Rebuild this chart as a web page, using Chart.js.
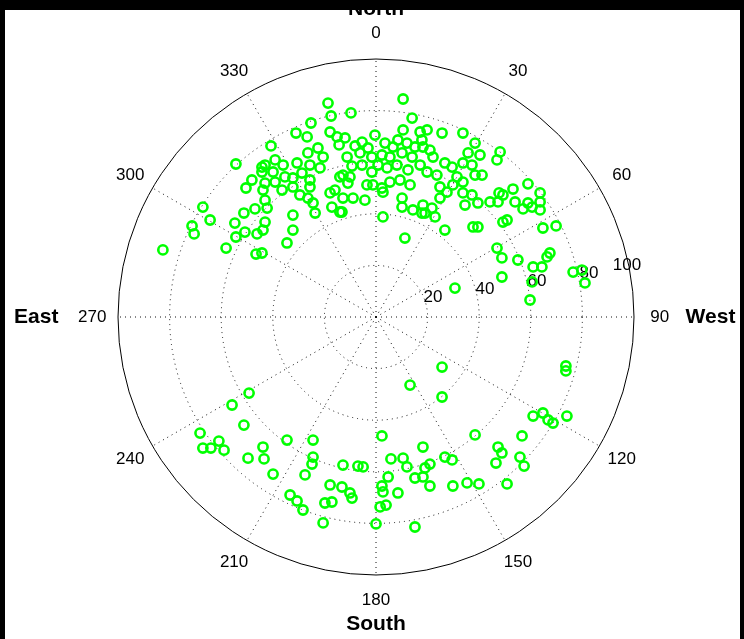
<!DOCTYPE html>
<html><head><meta charset="utf-8">
<script src="https://cdn.jsdelivr.net/npm/chart.js@4"></script>
<style>html,body{margin:0;padding:0;background:#fff;overflow:hidden}canvas{display:block}</style>
</head><body>
<canvas id="c" width="744" height="639"></canvas>
<script>
// Satellite positions on the sky plot, as offsets (in radial-axis units, 0..100)
// positive westOffset = towards West (right), positive northOffset = towards North (up)
const westOffset = [
 -82.6,-71.3,-70.5,-67.1,-64.3,-58.1,-54.7,-54.3,-54.3,-51.2,-50.8,-50.4,-48.1,-46.9,-46.5,-46.1,-44.2,
 -18.6,-17.4,-25.2,-31.0,-26.7,-40.7,-17.8,-15.1,-22.5,-26.4,-20.5,-14.0,-39.1,-43.0,-36.0,-30.6,-25.6,-21.7,-44.2,-39.9,-35.3,-28.7,-32.2,-25.6,-43.0,-39.1,-36.4,-32.2,-25.6,-29.5,-26.4,-24.4,-17.8,-15.9,-17.1,-14.0,-23.6,-32.2,-43.8,-43.0,-42.2,-43.0,-43.8,-32.2,-34.5,-44.2,-14.3,
 10.5,-9.7,14.0,10.5,17.1,-0.4,-12.0,-5.4,3.5,6.6,12.0,15.1,-6.2,-11.2,-1.6,2.3,5.4,10.1,14.0,-5.4,0.8,4.3,8.1,17.1,-12.8,-10.1,-10.9,-3.5,-1.2,2.3,5.4,9.3,13.2,-12.8,-8.9,-4.3,2.7,10.1,10.1,14.3,17.8,-13.2,2.7,11.2,-8.1,-3.1,8.5,-1.6,12.4,-9.3,
 25.6,33.7,19.8,17.8,38.4,18.2,35.7,40.3,48.1,46.9,22.1,26.7,29.5,33.7,37.2,41.1,38.4,31.4,19.8,33.7,29.8,24.8,27.5,33.7,37.2,24.8,39.5,34.5,44.2,47.7,47.3,18.2,21.7,19.0,22.9,26.7,37.6,39.5,46.9,20.9,23.6,
 58.9,53.1,63.6,49.2,53.9,58.9,63.6,63.6,57.0,60.5,50.8,49.2,64.7,69.8,67.4,66.3,55.0,60.9,64.3,76.4,79.8,81.0,48.8,48.8,30.6,60.5,59.7,
 25.6,13.2,25.6,73.6,73.6,60.9,64.7,66.7,68.6,74.0,38.4,56.6,18.2,47.3,48.8,26.7,29.5,55.8,46.5,57.4,20.9,19.0,18.2,20.9,29.8,35.3,39.9,50.8,
 -49.2,-55.8,-51.2,-68.2,-67.1,-64.0,-60.9,-58.9,-49.6,-43.8,-43.4,-34.5,-39.9,-33.3,-30.6,-27.5,
 2.3,-24.4,-24.4,-24.8,-12.8,-5.0,5.8,10.5,12.0,4.7,15.1,-17.8,-13.2,-10.1,-9.3,2.3,2.7,8.5,-19.8,-17.1,1.6,3.9,-28.3,-20.5,0.0,15.1,-7.0
];
const northOffset = [
 26.0,35.3,32.2,42.6,37.6,26.7,36.4,59.3,31.0,40.3,32.9,50.0,53.1,41.9,24.4,32.2,58.1,
 82.9,77.9,75.2,71.3,69.8,66.3,71.7,69.8,65.5,63.6,62.0,54.3,60.9,58.9,58.9,59.7,58.9,57.8,56.2,56.2,54.3,55.8,53.9,53.1,51.9,52.3,49.2,50.4,50.4,47.3,46.1,44.2,48.1,49.2,42.6,40.7,40.3,39.5,49.2,45.3,42.2,36.8,33.7,33.7,28.7,24.8,66.7,
 84.5,79.1,77.1,72.5,71.7,70.5,69.4,67.8,67.4,65.9,67.4,65.9,63.6,62.0,62.0,62.8,62.0,63.6,62.0,58.9,58.9,57.8,58.9,58.9,55.0,54.3,51.9,51.2,51.2,50.0,52.3,53.1,51.2,46.1,46.1,45.3,48.4,46.1,42.6,41.5,40.3,40.7,38.8,30.6,66.3,65.5,68.6,56.2,57.0,58.5,
 71.3,71.3,72.5,68.6,67.4,65.9,63.6,62.8,64.0,60.9,62.0,59.7,58.1,59.7,58.9,55.0,55.0,54.3,56.2,52.3,51.2,50.4,48.4,48.1,47.3,46.1,44.2,43.4,44.6,48.1,44.6,43.4,42.2,40.3,38.8,33.7,34.9,34.9,26.7,64.7,55.0,
 51.6,49.6,48.1,47.3,44.6,44.2,44.6,41.5,41.9,42.6,37.6,36.8,34.5,35.3,24.8,23.3,22.1,19.4,19.4,17.4,18.2,13.2,15.5,22.9,11.2,13.6,6.6,
 -19.4,-26.4,-31.0,-19.0,-20.9,-38.4,-37.2,-39.9,-41.1,-38.4,-45.7,-46.1,-50.4,-50.4,-52.7,-54.3,-55.4,-54.3,-56.6,-57.8,-57.0,-58.5,-62.0,-65.5,-65.5,-64.3,-64.7,-64.7,
 -29.5,-34.1,-41.9,-45.0,-50.8,-50.8,-48.1,-51.6,-54.7,-50.4,-55.0,-47.7,-60.9,-69.0,-71.3,-61.2,
 -46.1,-47.7,-54.3,-57.0,-57.4,-58.1,-55.0,-54.7,-58.1,-62.0,-62.4,-65.1,-65.9,-68.2,-70.2,-65.5,-67.8,-68.2,-72.1,-71.7,-73.6,-72.9,-74.8,-79.8,-80.2,-81.4,-57.8
];
const angleTicks = [0,30,60,90,120,150,180,210,240,270,300,330];
const angleTickLabels = ['0','30','60','90','120','150','180','210','240','270','300','330'];
const radialTicks = [20,40,60,80,100];
const radialTickLabels = ['20','40','60','80','100'];
const compassLabels = {north:'North', south:'South', east:'East', west:'West'};

const points = westOffset.map((x,i)=>({x:x, y:northOffset[i]}));
const RMAX = radialTicks[radialTicks.length-1];

const polarGrid = {
  id:'polarGrid',
  beforeDatasetsDraw(chart){
    const ctx = chart.ctx, xs = chart.scales.x, ys = chart.scales.y;
    const px = v => xs.getPixelForValue(v), py = v => ys.getPixelForValue(v);
    const cx = px(0), cy = py(0);
    const pr = v => px(v) - cx;
    ctx.save();
    ctx.strokeStyle = '#111'; ctx.lineWidth = 1;
    ctx.setLineDash([1,4]);
    radialTicks.slice(0,-1).forEach(v=>{
      ctx.beginPath(); ctx.arc(cx,cy,pr(v),0,Math.PI*2); ctx.stroke();
    });
    angleTicks.forEach(a=>{
      const t = a*Math.PI/180;
      ctx.beginPath(); ctx.moveTo(cx,cy);
      ctx.lineTo(px(RMAX*Math.sin(t)), py(RMAX*Math.cos(t))); ctx.stroke();
    });
    ctx.setLineDash([]);
    ctx.strokeStyle = '#000';
    ctx.beginPath(); ctx.arc(cx,cy,pr(RMAX),0,Math.PI*2); ctx.stroke();

    ctx.fillStyle = '#000';
    ctx.font = '17px "Liberation Sans", Arial, sans-serif';
    ctx.textAlign = 'center'; ctx.textBaseline = 'middle';
    angleTicks.forEach((a,i)=>{
      const t = a*Math.PI/180, r = 110;
      ctx.fillText(angleTickLabels[i], px(r*Math.sin(t)), py(r*Math.cos(t)));
    });
    radialTicks.forEach((v,i)=>{
      const lx = Math.min(cx + 5 + 2.6*v, cx + 251), ly = cy - 12 - 0.4*v;
      ctx.fillText(radialTickLabels[i], lx, ly);
    });
    ctx.font = 'bold 21px "Liberation Sans", Arial, sans-serif';
    ctx.fillText(compassLabels.north, cx, cy - 308);
    ctx.fillText(compassLabels.south, cx, cy + 307);
    ctx.textAlign = 'left';
    ctx.fillText(compassLabels.west, px(120) + 0, cy);
    ctx.textAlign = 'right';
    ctx.fillText(compassLabels.east, px(-120) - 8, cy);
    ctx.restore();
  },
  afterDraw(chart){
    const ctx = chart.ctx;
    ctx.save(); ctx.fillStyle = '#000';
    ctx.fillRect(0,0,chart.width,10);
    ctx.fillRect(0,0,5,chart.height);
    ctx.fillRect(chart.width-4,0,4,chart.height);
    ctx.restore();
  }
};

new Chart(document.getElementById('c'), {
  type:'scatter',
  data:{ datasets:[{
    data: points,
    pointStyle:'circle', pointRadius:4.6, pointHoverRadius:4.6,
    borderColor:'#00ff00', backgroundColor:'rgba(0,0,0,0)', borderWidth:2.6,
    showLine:false
  }]},
  options:{
    responsive:false, animation:false, events:[],
    layout:{padding:{left:118, right:110, top:59, bottom:64}},
    scales:{
      x:{type:'linear', min:-RMAX, max:RMAX, display:false},
      y:{type:'linear', min:-RMAX, max:RMAX, display:false}
    },
    plugins:{legend:{display:false}, tooltip:{enabled:false}, title:{display:false}}
  },
  plugins:[polarGrid]
});
</script>
</body></html>
